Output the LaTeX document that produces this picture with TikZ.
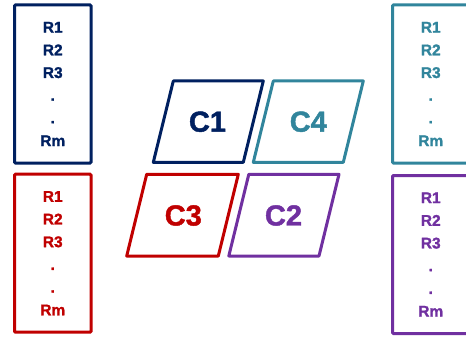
\documentclass[tikz,border=0pt]{standalone}
\usepackage{fontspec}
\setmainfont{Liberation Sans}
\newfontfamily\heavyfont[BoldFeatures={FakeBold=1.5}]{Liberation Sans}
\definecolor{navy}{HTML}{002060}
\definecolor{cred}{HTML}{C00000}
\definecolor{cteal}{HTML}{31859C}
\definecolor{cpurple}{HTML}{7030A0}
\tikzset{
  rbox/.style={draw=#1, text=#1, line width=3pt, rounded corners=1pt,
    minimum width=76.5pt, minimum height=158pt, inner sep=0pt, align=center,
    font=\heavyfont\bfseries\fontsize{15.5}{22.7}\selectfont},
  para/.style={draw=#1, line width=3pt, line join=round},
  clabel/.style={text=#1, font=\heavyfont\bfseries\fontsize{29}{30}\selectfont, inner sep=0pt}
}
\begin{document}
\begin{tikzpicture}[x=1pt,y=-1pt]
\useasboundingbox (0,0) rectangle (466,337);
% row boxes
\node[rbox=navy] (b1) at (52.75,84) {R1\\R2\\R3\\.\\.\\Rm};
\node[rbox=cred] (b2) at (52.75,253.2) {R1\\R2\\R3\\.\\.\\Rm};
\node[rbox=cteal] (b3) at (430.75,84) {R1\\R2\\R3\\.\\.\\Rm};
\node[rbox=cpurple] (b4) at (430.75,254.5) {R1\\R2\\R3\\.\\.\\Rm};
% parallelograms
\draw[para=navy] (173.3,81) -- (263.3,81) -- (243.3,162.3) -- (153.3,162.3) -- cycle;
\draw[para=cteal] (273.3,81) -- (363.3,81) -- (343.3,162.3) -- (253.3,162.3) -- cycle;
\draw[para=cred] (146.7,174.3) -- (238.3,174.3) -- (218.3,256) -- (126.7,256) -- cycle;
\draw[para=cpurple] (248.8,174.3) -- (339,174.3) -- (319,256) -- (228.8,256) -- cycle;
\node[clabel=navy] (c1) at (207.5,121.7) {C1};
\node[clabel=cteal] (c4) at (308.3,121.7) {C4};
\node[clabel=cred] (c3) at (183.3,215.5) {C3};
\node[clabel=cpurple] (c2) at (283.5,215.5) {C2};
\end{tikzpicture}
\end{document}
